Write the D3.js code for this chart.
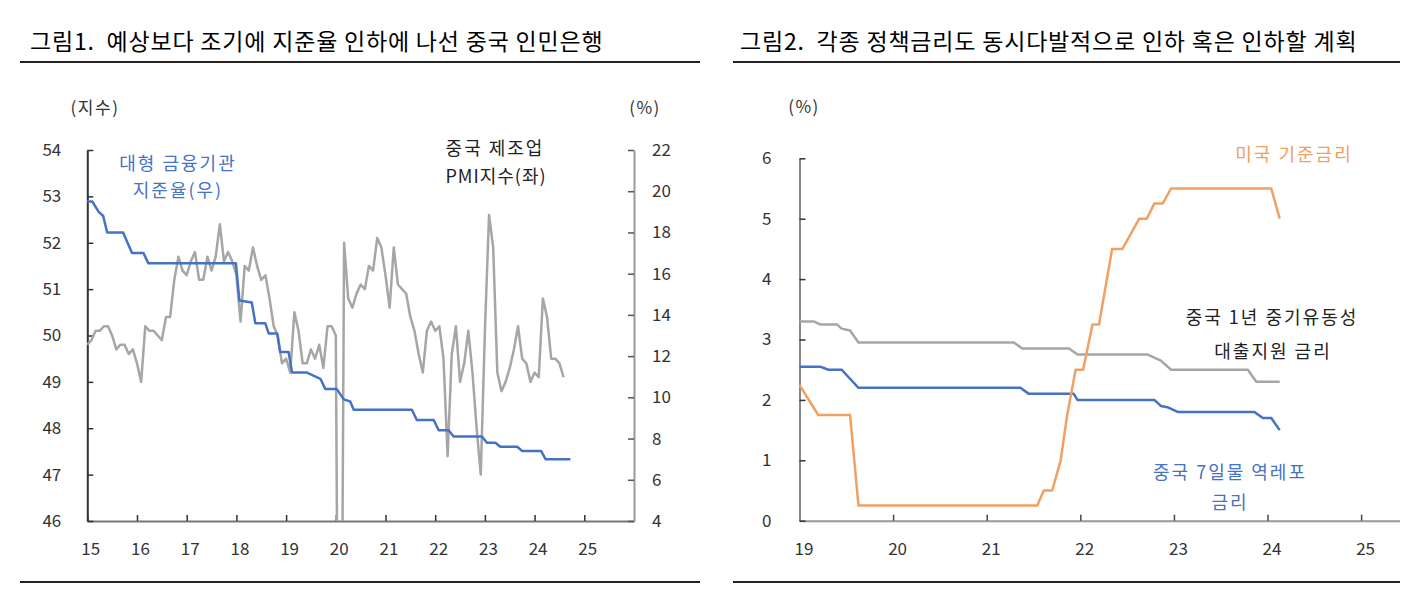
<!DOCTYPE html>
<html><head><meta charset="utf-8">
<script src="https://cdn.jsdelivr.net/npm/d3@7"></script>
<style>
body{margin:0;background:#fff;}
svg{display:block;font-family:"Noto Sans CJK KR","Noto Sans",sans-serif;}
text{white-space:pre;}
</style></head><body>
<svg id="c" width="1421" height="603"></svg>
<script>
// ---------- DATA ----------
// Chart 1: China manufacturing PMI (monthly, from Jan 2015), left axis
const pmiStartYear = 2015;
const pmiValues = [
  49.8,49.9,50.1,50.1,50.2,50.2,50.0,49.7,49.8,49.8,49.6,49.7,
  49.4,49.0,50.2,50.1,50.1,50.0,49.9,50.4,50.4,51.2,51.7,51.4,
  51.3,51.6,51.8,51.2,51.2,51.7,51.4,51.7,52.4,51.6,51.8,51.6,
  51.3,50.3,51.5,51.4,51.9,51.5,51.2,51.3,50.8,50.2,50.0,49.4,
  49.5,49.2,50.5,50.1,49.4,49.4,49.7,49.5,49.8,49.3,50.2,50.2,
  50.0,35.7,52.0,50.8,50.6,50.9,51.1,51.0,51.5,51.4,52.1,51.9,
  51.3,50.6,51.9,51.1,51.0,50.9,50.4,50.1,49.6,49.2,50.1,50.3,
  50.1,50.2,49.5,47.4,49.6,50.2,49.0,49.4,50.1,49.2,48.0,47.0,
  50.1,52.6,51.9,49.2,48.8,49.0,49.3,49.7,50.2,49.5,49.4,49.0,
  49.2,49.1,50.8,50.4,49.5,49.5,49.4,49.1
];
// Chart 1: reserve requirement ratio (%), right axis
const rrrDates = [2015.00,2015.10,2015.23,2015.32,2015.40,2015.72,2015.90,2016.13,2016.23,2017.99,
  2018.06,2018.31,2018.38,2018.58,2018.65,2018.82,2018.88,2019.05,2019.12,2019.42,2019.69,2019.79,
  2020.02,2020.16,2020.29,2020.36,2021.53,2021.63,2021.97,2022.07,2022.27,2022.37,2022.94,2023.04,
  2023.21,2023.31,2023.65,2023.75,2024.13,2024.22,2024.72];
const rrrValues = [19.5,19.5,19.0,18.8,18.0,18.0,17.0,17.0,16.5,16.5,
  14.7,14.6,13.6,13.6,13.1,13.1,12.2,12.2,11.2,11.2,10.9,10.4,
  10.4,9.9,9.8,9.4,9.4,8.9,8.9,8.4,8.4,8.1,8.1,7.8,
  7.8,7.6,7.6,7.4,7.4,7.0,7.0];
const c1XTicks = [2015,2016,2017,2018,2019,2020,2021,2022,2023,2024,2025];
const c1LeftTicks = [46,47,48,49,50,51,52,53,54];
const c1RightTicks = [4,6,8,10,12,14,16,18,20,22];

// Chart 2: policy rates (%)
const mlfDates = [2019.00,2019.15,2019.22,2019.40,2019.45,2019.54,2019.63,2021.29,2021.38,2021.88,2021.97,2022.72,2022.86,2022.97,2023.79,2023.88,2024.13];
const mlfValues = [3.30,3.30,3.25,3.25,3.18,3.15,2.95,2.95,2.85,2.85,2.75,2.75,2.65,2.50,2.50,2.30,2.30];
const repoDates = [2019.00,2019.22,2019.31,2019.45,2019.51,2019.63,2021.36,2021.45,2021.93,2021.97,2022.79,2022.86,2022.93,2023.04,2023.86,2023.95,2024.04,2024.13];
const repoValues = [2.55,2.55,2.50,2.50,2.40,2.20,2.20,2.10,2.10,2.00,2.00,1.90,1.88,1.80,1.80,1.70,1.70,1.50];
const fedDates = [2019.00,2019.20,2019.54,2019.63,2021.54,2021.61,2021.70,2021.79,2021.86,2021.95,2022.03,2022.13,2022.20,2022.34,2022.45,2022.63,2022.71,2022.79,2022.88,2022.97,2024.04,2024.13];
const fedValues = [2.25,1.75,1.75,0.25,0.25,0.50,0.50,1.00,1.75,2.50,2.50,3.25,3.25,4.50,4.50,5.00,5.00,5.25,5.25,5.50,5.50,5.00];
const c2XTicks = [2019,2020,2021,2022,2023,2024,2025];
const c2YTicks = [0,1,2,3,4,5,6];

// ---------- STYLE ----------
const BLUE = "#4472c4", GRAY = "#a6a6a6", ORANGE = "#f0a062";
const svg = d3.select("#c");

function label(x, y, str, opt) {
  opt = opt || {};
  return svg.append("text").attr("x", x).attr("y", y)
    .attr("text-anchor", opt.anchor || "middle")
    .attr("font-size", opt.size || 19)
    .attr("font-weight", opt.weight || "normal")
    .attr("letter-spacing", opt.ls == null ? 1.5 : opt.ls)
    .attr("fill", opt.color || "#222")
    .attr("dy", "0.36em")
    .text(str);
}
function styleAxis(g, lineColor, tickColor, textColor) {
  g.select(".domain").attr("stroke", lineColor).attr("stroke-width", 2);
  g.selectAll(".tick line").attr("stroke", tickColor).attr("stroke-width", 1.5);
  g.selectAll(".tick text").attr("fill", textColor).attr("font-size", 17)
    .attr("font-family", '"Noto Sans CJK KR","Noto Sans",sans-serif');
}

// ---------- TITLES & RULES ----------
label(30, 42, "그림1.  예상보다 조기에 지준율 인하에 나선 중국 인민은행", {anchor:"start", size:23, ls:0.8, color:"#000"});
label(740, 42, "그림2.  각종 정책금리도 동시다발적으로 인하 혹은 인하할 계획", {anchor:"start", size:23, ls:0.8, color:"#000"});
[[20,700],[733,1400]].forEach(([a,b]) => {
  svg.append("line").attr("x1",a).attr("x2",b).attr("y1",62).attr("y2",62).attr("stroke","#222").attr("stroke-width",2);
  svg.append("line").attr("x1",a).attr("x2",b).attr("y1",582).attr("y2",582).attr("stroke","#222").attr("stroke-width",2);
});

// ---------- CHART 1 ----------
const x1 = d3.scaleLinear().domain([2015, 2026]).range([87.3, 634]);
const yL = d3.scaleLinear().domain([46, 54]).range([521, 150]);
const yR = d3.scaleLinear().domain([4, 22]).range([521, 150]);

svg.append("defs").append("clipPath").attr("id","clip1")
  .append("rect").attr("x",87).attr("y",140).attr("width",548).attr("height",381);

const gx1 = svg.append("g").attr("transform","translate(0,521)")
  .call(d3.axisBottom(x1).tickValues(c1XTicks).tickFormat(d => String(d % 100))
    .tickSizeInner(-6).tickSizeOuter(0).tickPadding(22));
styleAxis(gx1, "#777", "#333", "#333");
gx1.selectAll(".tick text").attr("dx", 3);

const gyL = svg.append("g").attr("transform","translate(87.3,0)")
  .call(d3.axisLeft(yL).tickValues(c1LeftTicks).tickFormat(d3.format("d"))
    .tickSizeInner(-6).tickSizeOuter(0).tickPadding(26));
styleAxis(gyL, "#333", "#333", "#333");

const gyR = svg.append("g").attr("transform","translate(634,0)")
  .call(d3.axisRight(yR).tickValues(c1RightTicks).tickFormat(d3.format("d"))
    .tickSizeInner(-6).tickSizeOuter(0).tickPadding(18));
styleAxis(gyR, "#999", "#555", "#333");

const pmiData = pmiValues.map((v, i) => [pmiStartYear + i / 12, v]);
svg.append("path").datum(pmiData).attr("clip-path","url(#clip1)")
  .attr("fill","none").attr("stroke",GRAY).attr("stroke-width",2.5).attr("stroke-linejoin","round")
  .attr("d", d3.line().x(d => x1(d[0])).y(d => yL(d[1])));

const rrrData = rrrDates.map((d, i) => [d, rrrValues[i]]);
svg.append("path").datum(rrrData).attr("clip-path","url(#clip1)")
  .attr("fill","none").attr("stroke",BLUE).attr("stroke-width",2.5).attr("stroke-linejoin","round")
  .attr("d", d3.line().x(d => x1(d[0])).y(d => yR(d[1])));

label(95, 108, "(지수)", {anchor:"middle", size:17, color:"#333"});
label(645, 108, "(%)", {anchor:"middle", size:17, color:"#333"});
label(178, 164, "대형 금융기관", {color:BLUE, size:18, ls:2});
label(178, 191, "지준율(우)", {color:BLUE, size:18, ls:2});
label(495, 149, "중국 제조업", {color:"#222", size:18, ls:2});
label(496, 177, "PMI지수(좌)", {color:"#222", size:18, ls:1});

// ---------- CHART 2 ----------
const x2 = d3.scaleLinear().domain([2019, 2025.41]).range([799.5, 1399.5]);
const y2 = d3.scaleLinear().domain([0, 6]).range([520.7, 158.3]);

const gx2 = svg.append("g").attr("transform","translate(0,520.7)")
  .call(d3.axisBottom(x2).tickValues(c2XTicks).tickFormat(d => String(d % 100))
    .tickSizeInner(-6).tickSizeOuter(0).tickPadding(22));
styleAxis(gx2, "#999", "#444", "#333");
gx2.selectAll(".tick text").attr("dx", 4);

const gy2 = svg.append("g").attr("transform","translate(799.5,0)")
  .call(d3.axisLeft(y2).tickValues(c2YTicks).tickFormat(d3.format("d"))
    .tickSizeInner(-6).tickSizeOuter(0).tickPadding(28));
styleAxis(gy2, "#888", "#333", "#333");

const line2 = d3.line().x(d => x2(d[0])).y(d => y2(d[1]));
[[mlfDates, mlfValues, GRAY], [repoDates, repoValues, BLUE], [fedDates, fedValues, ORANGE]].forEach(([ds, vs, col]) => {
  svg.append("path").datum(ds.map((d, i) => [d, vs[i]]))
    .attr("fill","none").attr("stroke",col).attr("stroke-width",2.5).attr("stroke-linejoin","round")
    .attr("d", line2);
});

label(804, 107, "(%)", {anchor:"middle", size:17, color:"#333"});
label(1294, 155, "미국 기준금리", {color:ORANGE, size:18, ls:2});
label(1272, 318, "중국 1년 중기유동성", {color:"#222", size:18, ls:2});
label(1273, 352, "대출지원 금리", {color:"#222", size:18, ls:2});
label(1230, 473, "중국 7일물 역레포", {color:BLUE, size:18, ls:2});
label(1230, 503, "금리", {color:BLUE, size:18, ls:2});
</script>
</body></html>
